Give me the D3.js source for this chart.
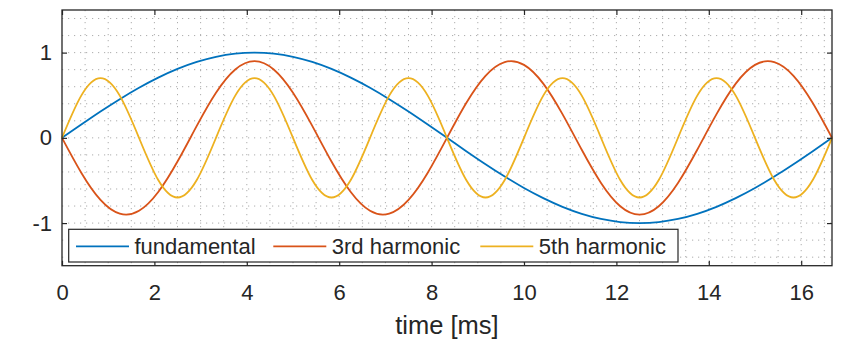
<!DOCTYPE html>
<html>
<head>
<meta charset="utf-8">
<script src="https://cdn.jsdelivr.net/npm/d3@7"></script>
<style>
  html, body { margin: 0; padding: 0; background: #fff; }
  svg { display: block; font-family: "Liberation Sans", Arial, Helvetica, sans-serif; }
</style>
</head>
<body>
<svg id="chart" width="841" height="339"></svg>
<script>
// Sample times over one 60 Hz cycle, in ms
const time = [0, 0.417, 0.833, 1.25, 1.667, 2.083, 2.5, 2.917, 3.333, 3.75, 4.167,
  4.583, 5, 5.417, 5.833, 6.25, 6.667, 7.083, 7.5, 7.917, 8.333,
  8.75, 9.167, 9.583, 10, 10.417, 10.833, 11.25, 11.667, 12.083, 12.5,
  12.917, 13.333, 13.75, 14.167, 14.583, 15, 15.417, 15.833, 16.25, 16.667];

const fundamental = [0, 0.156, 0.309, 0.454, 0.588, 0.707, 0.809, 0.891, 0.951, 0.988, 1,
  0.988, 0.951, 0.891, 0.809, 0.707, 0.588, 0.454, 0.309, 0.156, 0,
  -0.156, -0.309, -0.454, -0.588, -0.707, -0.809, -0.891, -0.951, -0.988, -1,
  -0.988, -0.951, -0.891, -0.809, -0.707, -0.588, -0.454, -0.309, -0.156, 0];

const harmonic3 = [0, -0.409, -0.728, -0.889, -0.856, -0.636, -0.278, 0.140, 0.529, 0.802, 0.9,
  0.802, 0.529, 0.140, -0.278, -0.636, -0.856, -0.889, -0.728, -0.409, 0,
  0.409, 0.728, 0.889, 0.856, 0.636, 0.278, -0.140, -0.529, -0.802, -0.9,
  -0.802, -0.529, -0.140, 0.278, 0.636, 0.856, 0.889, 0.728, 0.409, 0];

const harmonic5 = [0, 0.495, 0.7, 0.495, 0, -0.495, -0.7, -0.495, 0, 0.495, 0.7,
  0.495, 0, -0.495, -0.7, -0.495, 0, 0.495, 0.7, 0.495, 0,
  -0.495, -0.7, -0.495, 0, 0.495, 0.7, 0.495, 0, -0.495, -0.7,
  -0.495, 0, 0.495, 0.7, 0.495, 0, -0.495, -0.7, -0.495, 0];

const seriesNames = ["fundamental", "3rd harmonic", "5th harmonic"];
const seriesColors = ["#0072BD", "#D95319", "#EDB120"];
const xTicks = [0, 2, 4, 6, 8, 10, 12, 14, 16];
const yTicks = [-1, 0, 1];
const xLabel = "time [ms]";

const svg = d3.select("#chart");
const plotLeft = 62, plotRight = 832, plotTop = 10, plotBottom = 265.7;
const axisColor = "#262626";

const x = d3.scaleLinear().domain([0, 1000 / 60]).range([plotLeft, plotRight]);
const y = d3.scaleLinear().domain([-1.5, 1.5]).range([plotBottom, plotTop]);

// Dotted grid: minor lines every 0.5 ms / 0.2 units, major at the ticks
const grid = svg.append("g").attr("stroke", "#9a9a9a").attr("stroke-width", 1)
  .attr("stroke-dasharray", "1.2 4.8").attr("opacity", 0.8);
const xMinor = d3.range(0.5, 16.67, 0.5);
const yMinor = d3.range(-1.4, 1.45, 0.2);
grid.selectAll("line.vx").data(xMinor).join("line")
  .attr("x1", d => x(d)).attr("x2", d => x(d)).attr("y1", plotTop).attr("y2", plotBottom);
grid.selectAll("line.hy").data(yMinor).join("line")
  .attr("y1", d => y(d)).attr("y2", d => y(d)).attr("x1", plotLeft).attr("x2", plotRight);

// Curves
const seriesData = [fundamental, harmonic3, harmonic5];
const line = d3.line()
  .x((d, i) => x(time[i]))
  .y(d => y(d))
  .curve(d3.curveNatural);
svg.append("g").selectAll("path").data(seriesData).join("path")
  .attr("d", d => line(d))
  .attr("fill", "none")
  .attr("stroke", (d, i) => seriesColors[i])
  .attr("stroke-width", 1.8);

// Axes with inward ticks
const fontSize = 22;
const xAxis = d3.axisBottom(x).tickValues(xTicks).tickFormat(d => String(d))
  .tickSizeInner(-5).tickSizeOuter(0).tickPadding(19);
const gx = svg.append("g").attr("transform", `translate(0,${plotBottom})`).call(xAxis);
const yAxis = d3.axisLeft(y).tickValues(yTicks).tickFormat(d => String(d))
  .tickSizeInner(-5).tickSizeOuter(0).tickPadding(10);
const gy = svg.append("g").attr("transform", `translate(${plotLeft},0)`).call(yAxis);
const gxTop = svg.append("g").attr("transform", `translate(0,${plotTop})`)
  .call(d3.axisTop(x).tickValues(xTicks).tickFormat("").tickSizeInner(-5).tickSizeOuter(0));
const gyRight = svg.append("g").attr("transform", `translate(${plotRight},0)`)
  .call(d3.axisRight(y).tickValues(yTicks).tickFormat("").tickSizeInner(-5).tickSizeOuter(0));

[gx, gy, gxTop, gyRight].forEach(g => {
  g.select(".domain").remove();
  g.selectAll(".tick line").attr("stroke", axisColor).attr("stroke-width", 1.2);
  g.selectAll(".tick text").attr("fill", axisColor)
    .style("font-size", fontSize + "px")
    .style("font-family", "'Liberation Sans', Arial, Helvetica, sans-serif");
});

// Axes box
svg.append("rect")
  .attr("x", plotLeft).attr("y", plotTop)
  .attr("width", plotRight - plotLeft).attr("height", plotBottom - plotTop)
  .attr("fill", "none").attr("stroke", axisColor).attr("stroke-width", 1.3);

// X label
svg.append("text")
  .attr("x", (plotLeft + plotRight) / 2).attr("y", 334)
  .attr("text-anchor", "middle")
  .attr("fill", axisColor)
  .style("font-size", "25.5px")
  .text(xLabel);

// Legend
const legend = svg.append("g");
legend.append("rect")
  .attr("x", 68.7).attr("y", 229.3).attr("width", 609.3).attr("height", 32.7)
  .attr("fill", "#fff").attr("stroke", axisColor).attr("stroke-width", 1.2);
const legendLineX = [76, 273.3, 480.3];
const lineLen = 53;
const legendY = 246.3;
const items = legend.selectAll("g.item").data(seriesNames).join("g").attr("class", "item");
items.append("line")
  .attr("x1", (d, i) => legendLineX[i]).attr("x2", (d, i) => legendLineX[i] + lineLen)
  .attr("y1", legendY).attr("y2", legendY)
  .attr("stroke", (d, i) => seriesColors[i]).attr("stroke-width", 1.8);
items.append("text")
  .attr("x", (d, i) => legendLineX[i] + lineLen + 5.5)
  .attr("y", 254)
  .attr("fill", axisColor)
  .style("font-size", "22px")
  .text(d => d);
</script>
</body>
</html>
